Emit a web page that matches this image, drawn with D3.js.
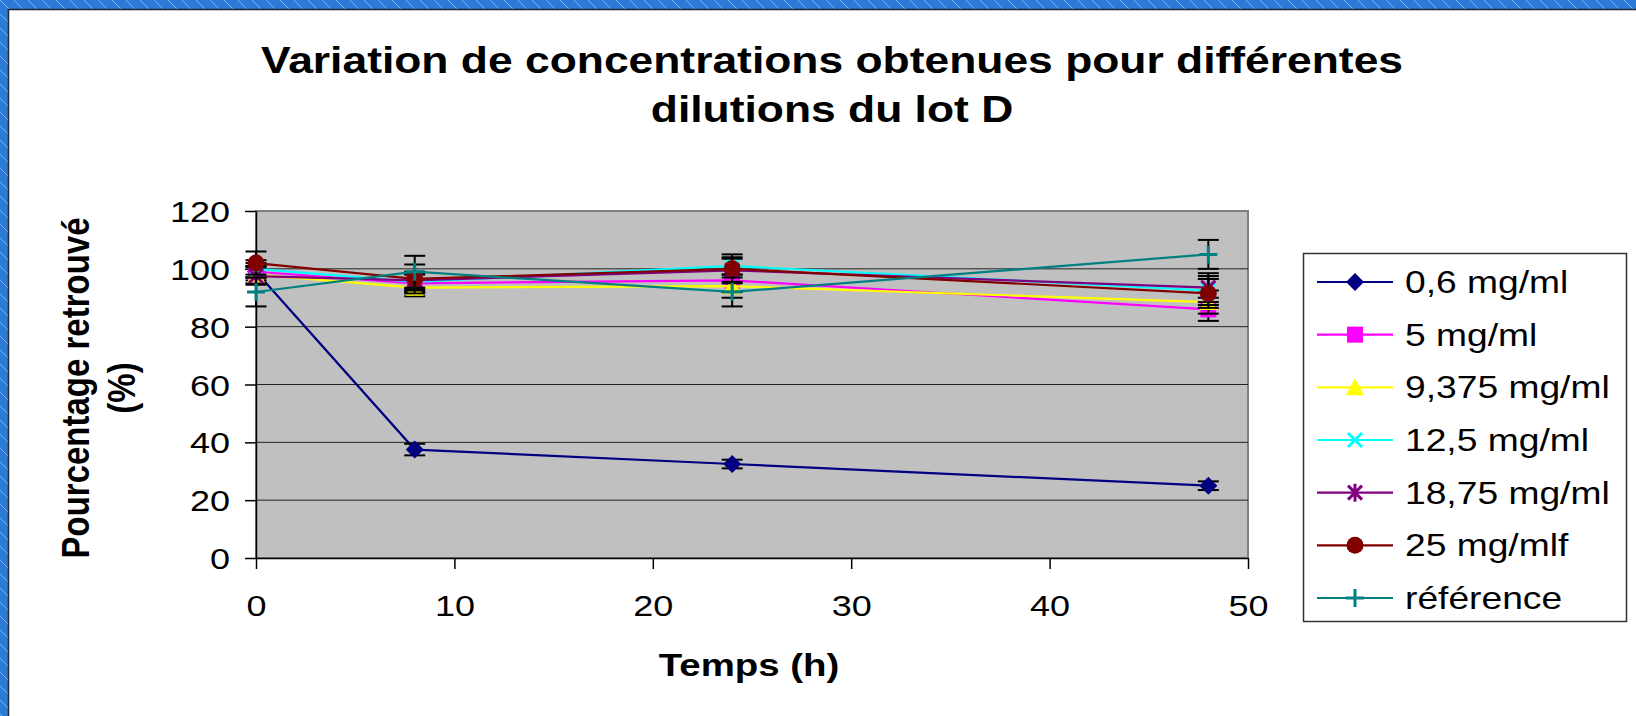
<!doctype html>
<html>
<head>
<meta charset="UTF-8">
<title>Variation de concentrations - lot D</title>
<script src="https://d3js.org/d3.v7.min.js"></script>
<style>
    body{ margin:0; background:#fff; }
    svg{ display:block; font-family:"Liberation Sans", Arial, sans-serif; }
</style>
</head>
<body>
<svg id="chart" width="1636" height="716"></svg>
<script>
// ---- data ----
var times = [0, 8, 24, 48];
var seriesNames = ["0,6 mg/ml", "5 mg/ml", "9,375 mg/ml", "12,5 mg/ml", "18,75 mg/ml", "25 mg/mlf", "référence"];
var v06   = [99, 37.5, 32.5, 25];
var v5    = [99, 95, 96, 86];
var v9    = [98, 93.5, 94, 88.5];
var v12   = [100, 95.5, 101, 92.5];
var v18   = [97.5, 96, 99.5, 93.5];
var v25   = [102, 96.5, 100, 91.5];
var vRef  = [92, 99, 92, 105];
var e06   = [2, 2, 1.5, 1.5];
var e5    = [3, 3, 4, 4];
var e9    = [3, 3, 4, 4];
var e12   = [3, 3, 3, 5];
var e18   = [3, 3, 4, 5];
var e25   = [4, 5, 5, 5];
var eRef  = [5, 5.5, 5, 5];
var xTicks = [0, 10, 20, 30, 40, 50];
var yTicks = [0, 20, 40, 60, 80, 100, 120];

var colors  = ["#000080", "#ff00ff", "#ffff00", "#00ffff", "#800080", "#800000", "#008080"];
var symbols = ["diamond", "square", "triangle", "cross", "star", "circle", "plus"];
var values  = [v06, v5, v9, v12, v18, v25, vRef];
var errors  = [e06, e5, e9, e12, e18, e25, eRef];

var svg = d3.select("#chart");
var SX = 1.2; // the original picture is stretched sideways

// ---- blue striped frame ----
var defs = svg.append("defs");
var pat = defs.append("pattern")
    .attr("id", "stripes").attr("patternUnits", "userSpaceOnUse")
    .attr("width", 14).attr("height", 14);
pat.append("rect").attr("width", 14).attr("height", 14).attr("fill", "#2b7bd6");
pat.append("path").attr("d", "M0,0 L14,14 M-7,7 L7,21 M7,-7 L21,7")
    .attr("stroke", "#7fb2ea").attr("stroke-width", 1);
svg.append("rect").attr("x", 0).attr("y", 0).attr("width", 1636).attr("height", 9).attr("fill", "url(#stripes)");
svg.append("rect").attr("x", 0).attr("y", 0).attr("width", 8).attr("height", 716).attr("fill", "url(#stripes)");
svg.append("path").attr("d", "M8.5,716 L8.5,9.5 L1636,9.5")
    .attr("fill", "none").attr("stroke", "#1c2836").attr("stroke-width", 1.5);

// ---- scales ----
var x = d3.scaleLinear().domain([0, 50]).range([256, 1248]);
var y = d3.scaleLinear().domain([0, 120]).range([558, 211]);

// ---- title ----
var title = ["Variation de concentrations obtenues pour différentes", "dilutions du lot D"];
svg.selectAll(".title").data(title).enter().append("text")
    .attr("class", "title")
    .attr("transform", function(d, i){ return "translate(832," + (73 + i * 49) + ") scale(" + SX + ",1)"; })
    .attr("text-anchor", "middle")
    .attr("font-size", 37).attr("font-weight", "bold")
    .text(function(d){ return d; });

// ---- plot area ----
svg.append("rect")
    .attr("x", x(0)).attr("y", y(120))
    .attr("width", x(50) - x(0)).attr("height", y(0) - y(120))
    .attr("fill", "#c0c0c0").attr("stroke", "#808080").attr("stroke-width", 2);

svg.selectAll(".grid").data(yTicks.slice(1, -1)).enter().append("line")
    .attr("x1", x(0)).attr("x2", x(50))
    .attr("y1", function(d){ return y(d); }).attr("y2", function(d){ return y(d); })
    .attr("stroke", "#222").attr("stroke-width", 1);

// ---- axes ----
var yAxis = svg.append("g").attr("transform", "translate(" + x(0) + ",0)")
    .call(d3.axisLeft(y).tickValues(yTicks).tickSize(11).tickSizeOuter(0));
yAxis.selectAll("text")
    .attr("x", 0).attr("dy", "0.35em")
    .attr("transform", "translate(-26,0) scale(" + SX + ",1)")
    .attr("font-size", 30).attr("fill", "#000")
    .style("font-family", "Liberation Sans, Arial, sans-serif");

var xAxis = svg.append("g").attr("transform", "translate(0," + y(0) + ")")
    .call(d3.axisBottom(x).tickValues(xTicks).tickSize(11).tickSizeOuter(0));
xAxis.selectAll("text")
    .attr("y", 0).attr("dy", 0)
    .attr("transform", "translate(0,58) scale(" + SX + ",1)")
    .attr("font-size", 30).attr("fill", "#000")
    .style("font-family", "Liberation Sans, Arial, sans-serif");

svg.selectAll(".domain").attr("stroke", "#000").attr("stroke-width", 1.5);
svg.selectAll(".tick line").attr("stroke", "#000").attr("stroke-width", 1.5);

svg.append("text")
    .attr("transform", "translate(749,676) scale(" + SX + ",1)")
    .attr("text-anchor", "middle").attr("font-size", 32).attr("font-weight", "bold")
    .text("Temps (h)");

var yTitle = ["Pourcentage retrouvé", "(%)"];
svg.selectAll(".ytitle").data(yTitle).enter().append("text")
    .attr("transform", function(d, i){ return "translate(" + (89 + i * 46) + ",388) scale(" + SX + ",1) rotate(-90)"; })
    .attr("text-anchor", "middle").attr("font-size", 33).attr("font-weight", "bold")
    .text(function(d){ return d; });

// ---- markers ----
function marker(g, type, color, cx, cy){
    var s = 9;
    if(type === "diamond"){
        g.append("path").attr("d", "M" + cx + "," + (cy - s) + " L" + (cx + s) + "," + cy + " L" + cx + "," + (cy + s) + " L" + (cx - s) + "," + cy + " Z")
         .attr("fill", color);
    } else if(type === "square"){
        g.append("rect").attr("x", cx - 8).attr("y", cy - 8).attr("width", 16).attr("height", 16).attr("fill", color);
    } else if(type === "triangle"){
        g.append("path").attr("d", "M" + cx + "," + (cy - 9) + " L" + (cx + 9) + "," + (cy + 8) + " L" + (cx - 9) + "," + (cy + 8) + " Z")
         .attr("fill", color);
    } else if(type === "cross" || type === "star"){
        var d = "M" + (cx - 7) + "," + (cy - 7) + " L" + (cx + 7) + "," + (cy + 7) + " M" + (cx + 7) + "," + (cy - 7) + " L" + (cx - 7) + "," + (cy + 7);
        if(type === "star") d += " M" + cx + "," + (cy - 9) + " L" + cx + "," + (cy + 9);
        g.append("path").attr("d", d).attr("stroke", color).attr("stroke-width", 3).attr("fill", "none");
    } else if(type === "circle"){
        g.append("circle").attr("cx", cx).attr("cy", cy).attr("r", 8.5).attr("fill", color);
    } else if(type === "plus"){
        g.append("path").attr("d", "M" + (cx - 9) + "," + cy + " L" + (cx + 9) + "," + cy + " M" + cx + "," + (cy - 9) + " L" + cx + "," + (cy + 9))
         .attr("stroke", color).attr("stroke-width", 3).attr("fill", "none");
    }
}

// ---- series ----
var line = d3.line()
    .x(function(d){ return x(d.t); })
    .y(function(d){ return y(d.v); });

values.forEach(function(vals, k){
    var pts = times.map(function(t, i){ return {t: t, v: vals[i], e: errors[k][i]}; });
    var g = svg.append("g");
    g.append("path").datum(pts).attr("d", line)
        .attr("fill", "none").attr("stroke", colors[k]).attr("stroke-width", 2.2);

    var eb = g.selectAll(".err").data(pts).enter().append("g");
    eb.append("line")
        .attr("x1", function(d){ return x(d.t); }).attr("x2", function(d){ return x(d.t); })
        .attr("y1", function(d){ return y(d.v - d.e); }).attr("y2", function(d){ return y(d.v + d.e); })
        .attr("stroke", "#000").attr("stroke-width", 2);
    [-1, 1].forEach(function(sg){
        eb.append("line")
            .attr("x1", function(d){ return x(d.t) - 10.5; }).attr("x2", function(d){ return x(d.t) + 10.5; })
            .attr("y1", function(d){ return y(d.v + sg * d.e); }).attr("y2", function(d){ return y(d.v + sg * d.e); })
            .attr("stroke", "#000").attr("stroke-width", 2);
    });

    pts.forEach(function(d){ marker(g, symbols[k], colors[k], x(d.t), y(d.v)); });
});

// ---- legend ----
var legend = svg.append("g");
legend.append("rect").attr("x", 1303.5).attr("y", 253.5).attr("width", 323).attr("height", 368)
    .attr("fill", "#fff").attr("stroke", "#333").attr("stroke-width", 1.5);
var rowY = d3.scaleLinear().domain([0, 6]).range([282, 598]);
seriesNames.forEach(function(name, k){
    var cy = rowY(k);
    legend.append("line").attr("x1", 1317).attr("x2", 1393).attr("y1", cy).attr("y2", cy)
        .attr("stroke", colors[k]).attr("stroke-width", 2.2);
    marker(legend, symbols[k], colors[k], 1355, cy);
    legend.append("text")
        .attr("transform", "translate(1405," + (cy + 11) + ") scale(" + SX + ",1)")
        .attr("font-size", 31).text(name);
});
</script>
</body>
</html>
